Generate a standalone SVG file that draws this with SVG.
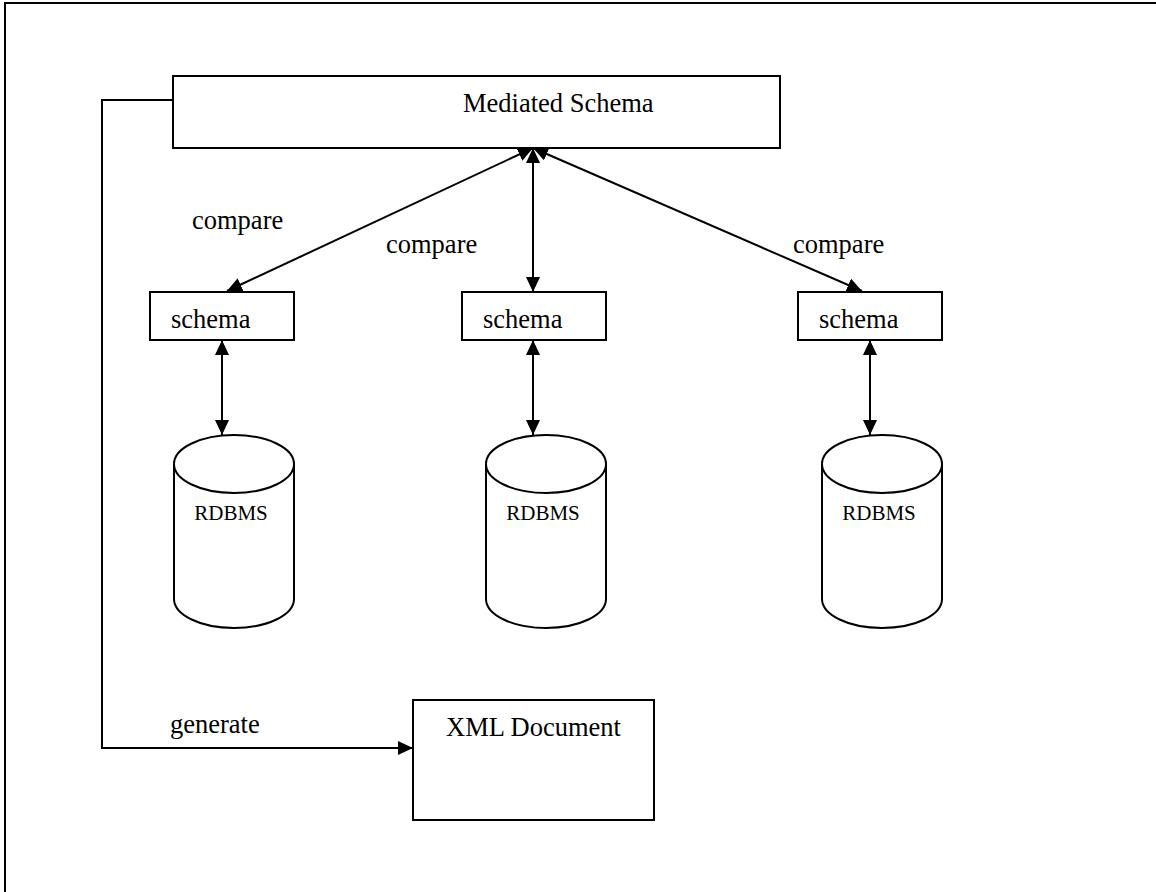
<svg xmlns="http://www.w3.org/2000/svg" width="1156" height="892" viewBox="0 0 1156 892">
<style>
.box{fill:#fff;stroke:#000;stroke-width:2}
.ln{fill:none;stroke:#000;stroke-width:2}
.t{font-family:"Liberation Serif","Times New Roman",serif;font-size:26.5px;fill:#000}
.s{font-family:"Liberation Serif","Times New Roman",serif;font-size:21px;fill:#000}
</style>
<defs>
<marker id="ah" markerUnits="userSpaceOnUse" markerWidth="15" markerHeight="14" refX="15" refY="7" orient="auto-start-reverse" viewBox="0 0 15 14">
<path d="M0,0 L15,7 L0,14 z" fill="#000"/>
</marker>
</defs>
<rect width="1156" height="892" fill="#fff"/>
<path class="ln" d="M5,892 V3 H1156"/>
<g id="connectors">
<line class="ln" x1="533" y1="148" x2="227" y2="291" marker-start="url(#ah)" marker-end="url(#ah)"/>
<line class="ln" x1="533" y1="148" x2="533" y2="292" marker-start="url(#ah)" marker-end="url(#ah)"/>
<line class="ln" x1="533" y1="148" x2="862" y2="291" marker-start="url(#ah)" marker-end="url(#ah)"/>
<line class="ln" x1="222" y1="340" x2="222" y2="435" marker-start="url(#ah)" marker-end="url(#ah)"/>
<line class="ln" x1="533" y1="340" x2="533" y2="435" marker-start="url(#ah)" marker-end="url(#ah)"/>
<line class="ln" x1="870" y1="340" x2="870" y2="435" marker-start="url(#ah)" marker-end="url(#ah)"/>
<path class="ln" d="M173,100 H102 V748 H413" marker-end="url(#ah)"/>
<text class="t" x="192" y="229">compare</text>
<text class="t" x="386" y="253">compare</text>
<text class="t" x="793" y="253">compare</text>
<text class="t" x="170" y="733">generate</text>
</g>
<g id="mediated">
<rect class="box" x="173" y="76" width="607" height="72"/>
<text class="t" x="463" y="112">Mediated Schema</text>
</g>
<g id="schema1">
<rect class="box" x="150" y="292" width="144" height="48"/>
<text class="t" x="171" y="328">schema</text>
</g>
<g id="schema2">
<rect class="box" x="462" y="292" width="144" height="48"/>
<text class="t" x="483" y="328">schema</text>
</g>
<g id="schema3">
<rect class="box" x="798" y="292" width="144" height="48"/>
<text class="t" x="819" y="328">schema</text>
</g>
<g id="db1">
<path class="box" d="M174,464 V599 A60,29 0 0 0 294,599 V464"/>
<ellipse class="box" cx="234" cy="464" rx="60" ry="29"/>
<text class="s" x="231" y="520" text-anchor="middle">RDBMS</text>
</g>
<g id="db2">
<path class="box" d="M486,464 V599 A60,29 0 0 0 606,599 V464"/>
<ellipse class="box" cx="546" cy="464" rx="60" ry="29"/>
<text class="s" x="543" y="520" text-anchor="middle">RDBMS</text>
</g>
<g id="db3">
<path class="box" d="M822,464 V599 A60,29 0 0 0 942,599 V464"/>
<ellipse class="box" cx="882" cy="464" rx="60" ry="29"/>
<text class="s" x="879" y="520" text-anchor="middle">RDBMS</text>
</g>
<g id="xmldoc">
<rect class="box" x="413" y="700" width="241" height="120"/>
<text class="t" x="533.5" y="736" text-anchor="middle">XML Document</text>
</g>
</svg>
